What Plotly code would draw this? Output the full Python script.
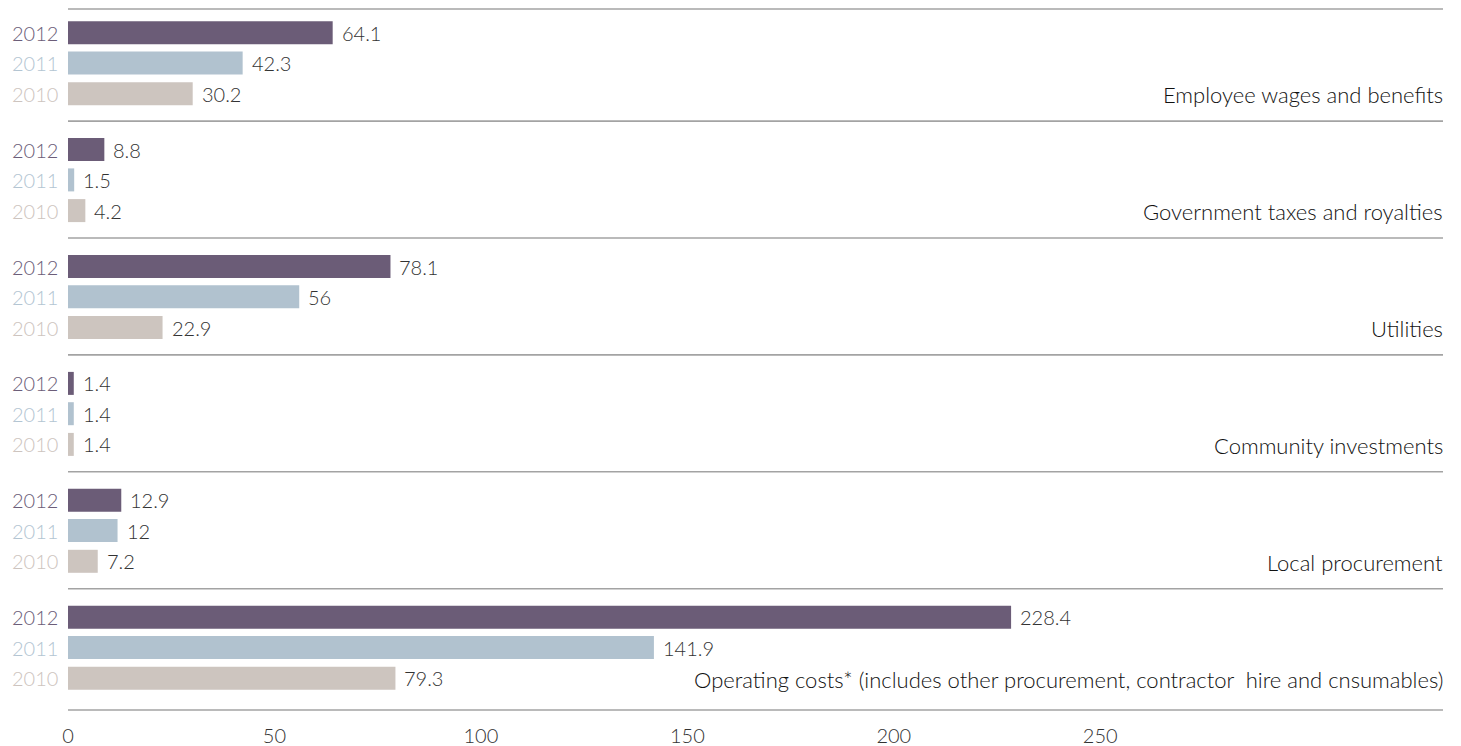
import plotly.graph_objects as go

# ---------------- data ----------------
categories = [
    "Employee wages and benefits",
    "Government taxes and royalties",
    "Utilities",
    "Community investments",
    "Local procurement",
    "Operating costs* (includes other procurement, contractor\u00a0 hire and cnsumables)",
]
years = ["2012", "2011", "2010"]
values_2012 = [64.1, 8.8, 78.1, 1.4, 12.9, 228.4]
values_2011 = [42.3, 1.5, 56, 1.4, 12, 141.9]
values_2010 = [30.2, 4.2, 22.9, 1.4, 7.2, 79.3]
tick_values = [0, 50, 100, 150, 200, 250]
tick_labels = ["0", "50", "100", "150", "200", "250"]

# ---------------- styling / layout ----------------
series = [values_2012, values_2011, values_2010]
bar_colors = ["#6b5c77", "#b1c2cf", "#cdc5bf"]
year_colors = ["#6b5d78", "#b3c5d2", "#cdc4be"]
FONT = "Lato"
WEIGHT = 300

W, H = 1461, 746
ML, MR, MT, MB = 60, 26, 0, 42
PLOT_H = H - MT - MB
GROUP_START = 24.7
GROUP_PITCH = 116.9
BAR_OFFSETS = [0, 30.3, 61]
BAR_W = 23
LINE_ABOVE = 28.5
RULE_COLOR = "#a3a3a3"
RULE_W = 1.6


def ypos(g, k):
    return GROUP_START + GROUP_PITCH * g + BAR_OFFSETS[k]


fig = go.Figure()
for k, vals in enumerate(series):
    fig.add_trace(go.Bar(
        x=vals,
        y=[ypos(g, k) for g in range(len(categories))],
        orientation="h",
        width=BAR_W,
        marker=dict(color=bar_colors[k], line=dict(width=0)),
        name=years[k],
        hoverinfo="skip",
        showlegend=False,
    ))

annotations = []
shapes = []
for g, cat in enumerate(categories):
    for k, vals in enumerate(series):
        y = ypos(g, k)
        annotations.append(dict(
            x=0, xref="paper", y=y, yref="y", text=years[k],
            xanchor="right", yanchor="middle", xshift=-8, showarrow=False,
            font=dict(family=FONT, size=20, color=year_colors[k], weight=WEIGHT),
        ))
        annotations.append(dict(
            x=vals[g], xref="x", y=y, yref="y", text=str(vals[g]),
            xanchor="left", yanchor="middle", xshift=7, showarrow=False,
            font=dict(family=FONT, size=20, color="#333333", weight=WEIGHT),
        ))
    annotations.append(dict(
        x=1, xref="paper", y=ypos(g, 2) + 1, yref="y", text=cat,
        xanchor="right", yanchor="middle", xshift=2, showarrow=False,
        font=dict(family=FONT, size=22, color="#111111", weight=WEIGHT),
    ))

# separators between groups
for g in range(1, len(categories)):
    yl = GROUP_START + GROUP_PITCH * g - LINE_ABOVE
    shapes.append(dict(
        type="line", xref="paper", x0=0, x1=1, yref="y", y0=yl, y1=yl,
        line=dict(color=RULE_COLOR, width=RULE_W),
    ))
# top and bottom rules framing the plot area
for yl in (1, PLOT_H - 2):
    shapes.append(dict(
        type="line", xref="paper", x0=0, x1=1, yref="y", y0=yl, y1=yl,
        line=dict(color=RULE_COLOR, width=RULE_W),
    ))

fig.update_layout(
    width=W, height=H,
    margin=dict(l=ML, r=MR, t=MT, b=MB),
    paper_bgcolor="white", plot_bgcolor="white",
    barmode="overlay",
    xaxis=dict(
        range=[0, 333], tickvals=tick_values, ticktext=tick_labels,
        showgrid=False, zeroline=False, showline=False, ticks="",
        ticklabelstandoff=10,
        tickfont=dict(family=FONT, size=20, color="#333333", weight=WEIGHT),
        fixedrange=True,
    ),
    yaxis=dict(range=[PLOT_H, 0], visible=False, fixedrange=True),
    annotations=annotations,
    shapes=shapes,
)

fig.write_html("out.html")
